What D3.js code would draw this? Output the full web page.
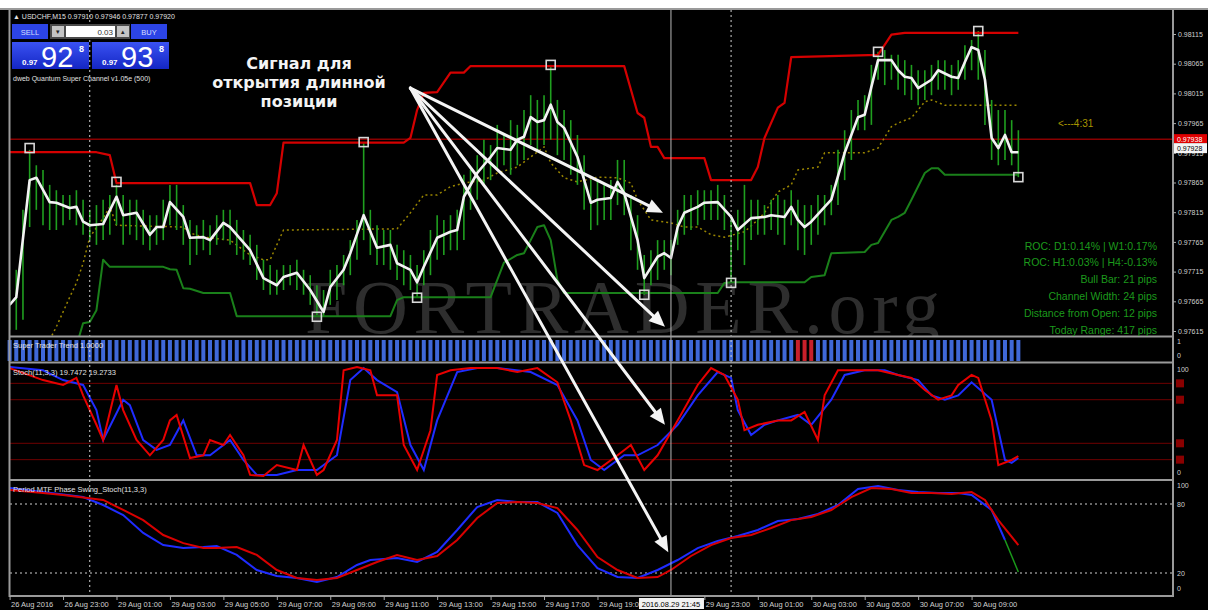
<!DOCTYPE html>
<html>
<head>
<meta charset="utf-8">
<script src="https://cdn.jsdelivr.net/npm/d3@7"></script>
<style>
  body { margin: 0; background: #fff; }
  svg text { font-family: "Liberation Sans", Arial, sans-serif; }
</style>
</head>
<body>
<svg id="chart" width="1208" height="610"></svg>
<script>
// ---- data ----
var barCount = 152;   // M15 bars, 26 Aug 21:00 .. 30 Aug 10:45

var barHigh = [
  0.97684,0.97718,0.97819,0.97920,0.97894,0.97886,0.97861,0.97852,0.97844,0.97844,
  0.97852,0.97836,0.97819,0.97827,0.97836,0.97844,0.97861,0.97844,0.97836,0.97836,
  0.97819,0.97810,0.97810,0.97836,0.97861,0.97861,0.97827,0.97802,0.97793,0.97802,
  0.97793,0.97810,0.97819,0.97819,0.97802,0.97785,0.97777,0.97760,0.97735,0.97726,
  0.97718,0.97726,0.97726,0.97735,0.97718,0.97709,0.97692,0.97684,0.97718,0.97726,
  0.97743,0.97768,0.97802,0.97933,0.97819,0.97793,0.97785,0.97785,0.97760,0.97751,
  0.97743,0.97726,0.97751,0.97785,0.97810,0.97802,0.97810,0.97819,0.97878,0.97886,
  0.97911,0.97937,0.97928,0.97962,0.97945,0.97970,0.97962,0.97987,0.98012,0.98004,
  0.98012,0.98063,0.98004,0.97987,0.97970,0.97945,0.97911,0.97869,0.97869,0.97861,
  0.97869,0.97903,0.97903,0.97844,0.97810,0.97743,0.97751,0.97768,0.97768,0.97768,
  0.97819,0.97844,0.97844,0.97852,0.97852,0.97852,0.97861,0.97844,0.97810,0.97819,
  0.97861,0.97836,0.97836,0.97827,0.97836,0.97844,0.97836,0.97852,0.97836,0.97827,
  0.97827,0.97844,0.97844,0.97861,0.97920,0.97953,0.97987,0.98004,0.98012,0.98063,
  0.98085,0.98088,0.98080,0.98080,0.98071,0.98063,0.98054,0.98054,0.98063,0.98071,
  0.98071,0.98063,0.98071,0.98096,0.98105,0.98120,0.98088,0.98004,0.97987,0.97987,
  0.97970,0.97953
];
var barLow = [
  0.97617,0.97617,0.97634,0.97790,0.97819,0.97793,0.97785,0.97785,0.97793,0.97802,
  0.97793,0.97777,0.97768,0.97760,0.97768,0.97777,0.97793,0.97760,0.97777,0.97768,
  0.97760,0.97751,0.97760,0.97768,0.97793,0.97785,0.97760,0.97726,0.97743,0.97751,
  0.97743,0.97760,0.97768,0.97760,0.97743,0.97735,0.97726,0.97701,0.97684,0.97676,
  0.97676,0.97684,0.97692,0.97684,0.97676,0.97659,0.97642,0.97639,0.97659,0.97667,
  0.97692,0.97709,0.97735,0.97768,0.97743,0.97726,0.97726,0.97718,0.97701,0.97692,
  0.97684,0.97671,0.97692,0.97709,0.97735,0.97743,0.97751,0.97751,0.97768,0.97819,
  0.97836,0.97861,0.97869,0.97886,0.97894,0.97878,0.97894,0.97903,0.97928,0.97920,
  0.97928,0.97937,0.97911,0.97903,0.97878,0.97861,0.97819,0.97785,0.97793,0.97802,
  0.97802,0.97827,0.97810,0.97751,0.97718,0.97676,0.97692,0.97701,0.97718,0.97709,
  0.97760,0.97777,0.97785,0.97793,0.97802,0.97802,0.97802,0.97785,0.97696,0.97751,
  0.97726,0.97768,0.97777,0.97777,0.97785,0.97777,0.97760,0.97793,0.97751,0.97743,
  0.97760,0.97777,0.97793,0.97810,0.97827,0.97869,0.97903,0.97953,0.97953,0.97962,
  0.98038,0.98029,0.98038,0.98021,0.98012,0.98004,0.97995,0.98004,0.98012,0.98021,
  0.98021,0.98012,0.98021,0.98038,0.98054,0.98038,0.97962,0.97903,0.97894,0.97903,
  0.97894,0.97874
];

// smoothed close (white line): [bar, price]
var closeLine = [
  [0,0.97659],[1,0.97672],[3,0.97869],[4,0.97873],[6,0.97832],[7,0.97831],[9,0.97822],[10,0.97824],
  [11,0.97799],[12,0.97793],[14,0.97795],[16,0.97841],[17,0.97810],[19,0.97814],[21,0.97777],[22,0.97790],
  [23,0.97790],[24,0.97832],[26,0.97807],[27,0.97772],[29,0.97773],[30,0.97768],[32,0.97797],[33,0.97790],
  [36,0.97751],[38,0.97704],[40,0.97692],[41,0.97706],[43,0.97713],[45,0.97684],[47,0.97647],[48,0.97689],
  [50,0.97718],[51,0.97746],[53,0.97810],[55,0.97755],[57,0.97760],[58,0.97729],[60,0.97718],[61,0.97697],
  [62,0.97723],[64,0.97772],[66,0.97782],[67,0.97785],[68,0.97841],[70,0.97881],[72,0.97908],[73,0.97923],
  [75,0.97920],[76,0.97937],[77,0.97942],[78,0.97975],[79,0.97967],[80,0.97970],[81,0.97996],[82,0.97967],
  [83,0.97957],[85,0.97908],[87,0.97831],[88,0.97836],[90,0.97839],[91,0.97866],[92,0.97847],[94,0.97768],
  [95,0.97704],[97,0.97740],[98,0.97746],[99,0.97738],[100,0.97790],[101,0.97814],[103,0.97824],[104,0.97831],
  [106,0.97832],[108,0.97807],[109,0.97785],[111,0.97805],[113,0.97807],[114,0.97810],[116,0.97807],[117,0.97824],
  [118,0.97802],[119,0.97790],[120,0.97799],[122,0.97824],[123,0.97836],[125,0.97915],[127,0.97975],[128,0.97979],
  [129,0.98026],[130,0.98071],[132,0.98071],[133,0.98054],[134,0.98043],[135,0.98041],[136,0.98024],[138,0.98038],
  [139,0.98054],[141,0.98043],[142,0.98041],[143,0.98068],[144,0.98093],[145,0.98088],[146,0.98038],[147,0.97940],
  [148,0.97923],[149,0.97945],[150,0.97916],[151,0.97916]
];

// Quantum Super Channel
var upperChannel = [
  [0,0.97916],[13,0.97916],[15,0.97911],[16,0.97864],[36,0.97864],[37,0.97827],[39,0.97827],[40,0.97847],
  [41,0.97932],[59,0.97932],[60,0.97940],[61,0.97987],[62,0.98016],[64,0.98017],[66,0.98050],[68,0.98050],
  [69,0.98061],[92,0.98061],[94,0.97982],[95,0.97974],[96,0.97925],[97,0.97925],[98,0.97906],[104,0.97906],
  [105,0.97869],[111,0.97869],[112,0.97891],[113,0.97940],[115,0.97991],[116,0.97999],[117,0.98076],[130,0.98080],
  [132,0.98114],[134,0.98117],[151,0.98117]
];
var lowerChannel = [
  [10,0.97590],[11,0.97628],[12,0.97630],[13,0.97650],[14,0.97735],[15,0.97723],[23,0.97723],[24,0.97719],
  [25,0.97718],[26,0.97687],[27,0.97686],[29,0.97679],[33,0.97679],[34,0.97640],[57,0.97640],[58,0.97667],
  [59,0.97672],[72,0.97672],[74,0.97730],[76,0.97743],[77,0.97746],[78,0.97768],[79,0.97790],[80,0.97793],
  [81,0.97768],[82,0.97701],[83,0.97679],[106,0.97679],[107,0.97696],[108,0.97697],[119,0.97697],[120,0.97706],
  [122,0.97709],[123,0.97746],[128,0.97748],[129,0.97760],[130,0.97763],[132,0.97802],[133,0.97807],[134,0.97814],
  [135,0.97836],[137,0.97881],[138,0.97889],[139,0.97889],[140,0.97878],[151,0.97878]
];
var midChannel = [
  [6,0.97600],[7,0.97622],[9,0.97672],[10,0.97696],[11,0.97729],[12,0.97773],[14,0.97805],[15,0.97824],
  [16,0.97793],[26,0.97790],[27,0.97780],[29,0.97773],[33,0.97768],[36,0.97743],[38,0.97735],[39,0.97735],
  [41,0.97785],[58,0.97787],[60,0.97814],[62,0.97844],[64,0.97844],[66,0.97858],[68,0.97864],[71,0.97869],
  [73,0.97881],[76,0.97891],[78,0.97908],[80,0.97925],[81,0.97898],[83,0.97873],[85,0.97866],[88,0.97874],
  [91,0.97873],[93,0.97864],[94,0.97836],[96,0.97802],[99,0.97797],[101,0.97790],[103,0.97790],[105,0.97777],
  [107,0.97773],[110,0.97782],[112,0.97802],[113,0.97814],[115,0.97849],[117,0.97861],[118,0.97886],[121,0.97891],
  [122,0.97915],[128,0.97915],[130,0.97923],[132,0.97959],[133,0.97965],[135,0.97974],[137,0.98001],[138,0.98004],
  [140,0.97995],[151,0.97995]
];
var channelSignals = [
  [3,0.97923],[16,0.97866],[46,0.97639],[53,0.97933],[61,0.97671],[81,0.98063],
  [95,0.97676],[108,0.97696],[130,0.98085],[145,0.98120],[151,0.97874]
];

var priceTicks = [0.97615,0.97665,0.97715,0.97765,0.97815,0.97865,0.97915,0.97965,0.98015,0.98065,0.98115];
var bidPrice = 0.97928, askPrice = 0.97938;

// Super Trader Trend: bars painted red (all the others are blue)
var trendDownBars = [118, 119, 120];

// Stoch(11,3,3): [bar, value]
var stochMain = [
  [0,99],[5,88],[8,83.5],[10,90],[11,74],[13,47],[14,33],[16,83.5],[17,60.5],[19,33],[21,19],[23,33],
  [24,51],[25,56],[27,16.5],[29,19],[30,33],[32,28.4],[33,37.6],[35,19],[36,1],[38,0],[40,10],[43,5.5],
  [44,28.4],[46,1],[47,5.5],[49,33],[50,97],[52,100],[54,97],[55,74],[58,74],[59,28.4],[61,5.5],[63,42],
  [64,92.7],[66,97],[69,99],[73,99],[76,95.4],[79,99],[82,86],[84,51],[86,10],[88,5.5],[91,19],[93,28.4],
  [95,5.5],[97,19],[100,51],[103,83.5],[105,99],[107,92.7],[109,70],[110,42],[112,47],[115,51],[117,51],
  [119,58.7],[121,33],[122,74],[124,97],[127,97],[130,97],[133,92.7],[135,90],[137,79],[139,70],[141,74],
  [142,83.5],[144,92.7],[145,90],[147,51],[148,10],[150,14.7],[151,18.3]
];
var stochSignal = [
  [0,100],[5,97],[8,88],[11,83.5],[13,60.5],[14,33],[17,70],[18,65],[20,33],[22,24],[24,28.4],[26,51],
  [28,19],[30,19],[33,33],[35,14.7],[37,1],[40,1],[43,5.5],[46,5.5],[49,19],[51,88],[53,99],[55,88],
  [58,77],[60,28.4],[62,5.5],[64,51],[67,95.4],[70,99],[73,99],[78,95.4],[82,83.5],[85,51],[87,14.7],
  [89,5.5],[92,19],[94,19],[97,28.4],[100,47],[103,74],[106,95.4],[108,90],[109,60.5],[111,37.6],[113,47],
  [115,51],[118,56],[120,47],[123,70],[125,92.7],[128,97],[131,97],[133,92.7],[136,88],[138,74],[140,70],
  [142,74],[144,86],[147,70],[149,14.7],[150,12],[151,16.5]
];
var stochLevels = [85, 70, 30, 15];

// Period MTF Phase Swing_Stoch(11,3,3): [bar, value]
var mtfMain = [
  [0,92.2],[5,89.6],[8,87.8],[14,83.5],[17,74.8],[20,66],[23,53],[26,46],[29,41.7],[31,41.7],[34,42.6],
  [37,35.7],[40,22.6],[43,15.7],[46,13.9],[49,15.7],[52,22.6],[55,29.6],[58,35.7],[61,31.3],[64,34.8],
  [67,48.7],[70,67.8],[73,80.9],[76,81.7],[79,80.9],[82,76.5],[85,57.4],[88,33.9],[91,22.6],[94,15.7],
  [97,16.5],[99,22.6],[102,34.8],[105,44.3],[108,50.4],[111,53],[114,59.1],[117,66],[120,68.7],[123,74.8],
  [126,86],[129,93.9],[132,93],[135,89.6],[138,89.6],[141,88.7],[144,90.4],[146,83.5],[148,66],[151,44.3]
];
var mtfSignal = [
  [0,93.9],[5,90.4],[11,86],[14,79.1],[17,70.4],[20,54.8],[23,44.3],[26,41.7],[29,42.6],[31,43.5],[34,35.7],
  [37,22.6],[40,17.4],[43,15.7],[46,12.2],[49,16.5],[52,27],[54,31.3],[58,33],[61,29.6],[64,38.3],[67,57.4],
  [70,77.4],[73,83.5],[76,81.7],[79,81.7],[82,72.2],[85,44.3],[88,24.3],[91,16.5],[94,15.7],[97,22.6],
  [100,31.3],[103,41.7],[106,47.8],[109,52.2],[112,57.4],[115,65.2],[118,67],[121,71.3],[124,79.1],[127,93],
  [130,95.7],[133,92.2],[136,90.4],[139,89.6],[142,89.6],[144,87.8],[147,74.8],[149,48.7]
];
var mtfSignalTail = [[149,48.7],[151,20.9]];
var mtfLevels = [80, 20];

// 29 Aug 21:00 sits under the crosshair date box, so it is not listed
var timeTickBars = [0,8,16,24,32,40,48,56,64,72,80,88,104,112,120,128,136,144];
var timeLabels = ["26 Aug 2016","26 Aug 23:00","29 Aug 01:00","29 Aug 03:00","29 Aug 05:00","29 Aug 07:00",
  "29 Aug 09:00","29 Aug 11:00","29 Aug 13:00","29 Aug 15:00","29 Aug 17:00","29 Aug 19:00",
  "29 Aug 23:00","30 Aug 01:00","30 Aug 03:00","30 Aug 05:00","30 Aug 07:00","30 Aug 09:00"];
var daySeparators = [12, 108];
var crosshairBar = 99, crosshairLabel = "2016.08.29 21:45";

var infoLines = ["ROC: D1:0.14% | W1:0.17%", "ROC: H1:0.03% | H4:-0.13%", "Bull Bar: 21 pips",
  "Channel Width: 24 pips", "Distance from Open:  12 pips", "Today Range:  417 pips"];

// ---- layout ----
var svg = d3.select("#chart");
var W = 1208, H = 610;
var left = 10, right = 1173;

var x = d3.scaleLinear().domain([0, 174]).range([9.6, 1172]);
var yPrice = d3.scaleLinear().domain([0.97615, 0.98115]).range([331, 34]);
var yTrend = d3.scaleLinear().domain([0, 1]).range([361, 340]);
var yStoch = d3.scaleLinear().domain([0, 100]).range([476, 367]);
var yMtf = d3.scaleLinear().domain([0, 100]).range([596, 481]);

svg.append("rect").attr("x", 0).attr("y", 8).attr("width", W).attr("height", H - 8).attr("fill", "#000");

var defs = svg.append("defs");
function clip(id, y0, y1) {
  defs.append("clipPath").attr("id", id).append("rect")
    .attr("x", left).attr("y", y0).attr("width", right - left).attr("height", y1 - y0);
  return "url(#" + id + ")";
}
var mainClip = clip("cMain", 10, 336);
var stochClip = clip("cStoch", 364, 479);
var mtfClip = clip("cMtf", 482, 595);

var line = function(ys) {
  return d3.line().x(d => x(d[0])).y(d => ys(d[1]));
};

// ---- main panel ----
var main = svg.append("g").attr("clip-path", mainClip);

main.append("text")
  .attr("x", 305).attr("y", 333)
  .attr("font-size", 76)
  .attr("textLength", 635).attr("lengthAdjust", "spacing")
  .attr("fill", "#2e2e2e")
  .style("font-family", "'Liberation Serif', serif")
  .text("FORTRADER.org");

main.append("line")
  .attr("x1", left).attr("x2", right)
  .attr("y1", yPrice(askPrice)).attr("y2", yPrice(askPrice))
  .attr("stroke", "#8a0000").attr("stroke-width", 1.5);

main.append("path").datum(midChannel)
  .attr("d", line(yPrice)).attr("fill", "none")
  .attr("stroke", "#9a8600").attr("stroke-width", 1.5).attr("stroke-dasharray", "2,3");

main.selectAll(".bar").data(d3.range(barCount)).enter().append("line")
  .attr("x1", i => x(i)).attr("x2", i => x(i))
  .attr("y1", i => yPrice(barHigh[i])).attr("y2", i => yPrice(barLow[i]))
  .attr("stroke", "#1f9f1f").attr("stroke-width", 1.6);

main.append("path").datum(upperChannel)
  .attr("d", line(yPrice)).attr("fill", "none")
  .attr("stroke", "#d40000").attr("stroke-width", 2.2).attr("stroke-linejoin", "round");

main.append("path").datum(lowerChannel)
  .attr("d", line(yPrice)).attr("fill", "none")
  .attr("stroke", "#1a801a").attr("stroke-width", 2).attr("stroke-linejoin", "round");

main.append("path").datum(closeLine)
  .attr("d", line(yPrice)).attr("fill", "none")
  .attr("stroke", "#f2f2f2").attr("stroke-width", 2.6).attr("stroke-linejoin", "round");

main.selectAll(".sig").data(channelSignals).enter().append("rect")
  .attr("x", d => x(d[0]) - 4.5).attr("y", d => yPrice(d[1]) - 4.5)
  .attr("width", 9).attr("height", 9)
  .attr("fill", "none").attr("stroke", "#d8d8d8").attr("stroke-width", 1.6);

// ---- trend histogram ----
var trendG = svg.append("g");
trendG.selectAll("rect").data(d3.range(barCount)).enter().append("rect")
  .attr("x", i => x(i) - 2).attr("width", 4)
  .attr("y", yTrend(1)).attr("height", yTrend(0) - yTrend(1))
  .attr("fill", i => trendDownBars.indexOf(i) >= 0 ? "#c8202a" : "#3f68d8");

// ---- stochastic ----
var stoch = svg.append("g").attr("clip-path", stochClip);
stoch.selectAll(".lvl").data(stochLevels).enter().append("line")
  .attr("x1", left).attr("x2", right)
  .attr("y1", d => yStoch(d)).attr("y2", d => yStoch(d))
  .attr("stroke", "#6e0000").attr("stroke-width", 1);
stoch.append("path").datum(stochSignal).attr("d", line(yStoch))
  .attr("fill", "none").attr("stroke", "#1f2cff").attr("stroke-width", 2);
stoch.append("path").datum(stochMain).attr("d", line(yStoch))
  .attr("fill", "none").attr("stroke", "#e80000").attr("stroke-width", 2);

svg.selectAll(".lvlbox").data(stochLevels).enter().append("rect")
  .attr("x", 1176).attr("y", d => yStoch(d) - 4).attr("width", 8).attr("height", 8)
  .attr("fill", "#8a0000");

// ---- MTF swing stoch ----
var mtf = svg.append("g").attr("clip-path", mtfClip);
mtf.selectAll(".lvl").data(mtfLevels).enter().append("line")
  .attr("x1", left).attr("x2", right)
  .attr("y1", d => yMtf(d)).attr("y2", d => yMtf(d))
  .attr("stroke", "#cfcfcf").attr("stroke-width", 1).attr("stroke-dasharray", "2,3");
mtf.append("path").datum(mtfSignal).attr("d", line(yMtf))
  .attr("fill", "none").attr("stroke", "#1f2cff").attr("stroke-width", 2);
mtf.append("path").datum(mtfSignalTail).attr("d", line(yMtf))
  .attr("fill", "none").attr("stroke", "#1a9a1a").attr("stroke-width", 1.5);
mtf.append("path").datum(mtfMain).attr("d", line(yMtf))
  .attr("fill", "none").attr("stroke", "#d80000").attr("stroke-width", 2);

// ---- separators / crosshair ----
svg.selectAll(".sep").data(daySeparators).enter().append("line")
  .attr("x1", d => x(d)).attr("x2", d => x(d)).attr("y1", 10).attr("y2", 595)
  .attr("stroke", "#d0d0d0").attr("stroke-width", 1).attr("stroke-dasharray", "2,3");
svg.append("line")
  .attr("x1", x(crosshairBar)).attr("x2", x(crosshairBar)).attr("y1", 10).attr("y2", 595)
  .attr("stroke", "#b8b8b8").attr("stroke-width", 1);

// frame
var frame = svg.append("g").attr("stroke", "#9a9a9a").attr("stroke-width", 2);
frame.append("line").attr("x1", 0).attr("x2", W).attr("y1", 9).attr("y2", 9);
frame.append("line").attr("x1", 9.5).attr("x2", 9.5).attr("y1", 9).attr("y2", 597);
frame.append("line").attr("x1", right).attr("x2", right).attr("y1", 9).attr("y2", 597);
[336.5, 362.5, 480, 596].forEach(function(yy) {
  frame.append("line").attr("x1", 9.5).attr("x2", right).attr("y1", yy).attr("y2", yy);
});

// ---- price axis ----
var priceAxis = svg.append("g")
  .attr("transform", "translate(" + right + ",0)")
  .call(d3.axisRight(yPrice).tickValues(priceTicks).tickFormat(d3.format(".5f")).tickSize(3).tickPadding(2));
priceAxis.select(".domain").remove();
priceAxis.selectAll("line").attr("stroke", "#aaa");
priceAxis.selectAll("text").attr("fill", "#d0d0d0").attr("font-size", 7)
  .style("font-family", "'Liberation Sans', Arial, sans-serif");

svg.append("rect").attr("x", 1174).attr("y", yPrice(askPrice) - 5).attr("width", 33).attr("height", 9).attr("fill", "#e00000");
svg.append("text").attr("x", 1177).attr("y", yPrice(askPrice) + 2.5).attr("font-size", 7).attr("fill", "#fff")
  .text(askPrice.toFixed(5));
svg.append("rect").attr("x", 1174).attr("y", yPrice(askPrice) + 4).attr("width", 33).attr("height", 10).attr("fill", "#f4f4f4");
svg.append("text").attr("x", 1177).attr("y", yPrice(askPrice) + 11.5).attr("font-size", 7).attr("fill", "#000")
  .text(bidPrice.toFixed(5));

// panel scale labels
var panelLabels = [
  [yTrend(1) + 4, "1"], [yTrend(0) - 3, "0"],
  [yStoch(100) + 5, "100"], [yStoch(0) - 1, "0"],
  [yMtf(100) + 7, "100"], [yMtf(80) + 2.5, "80"], [yMtf(20) + 2.5, "20"], [yMtf(0) - 5, "0"]
];
svg.selectAll(".plab").data(panelLabels).enter().append("text")
  .attr("x", 1177).attr("y", d => d[0]).attr("font-size", 7).attr("fill", "#d0d0d0").text(d => d[1]);

// ---- time axis ----
var timeAxis = svg.append("g")
  .attr("transform", "translate(0,596)")
  .call(d3.axisBottom(x).tickValues(timeTickBars).tickFormat((d, i) => timeLabels[i]).tickSize(4).tickPadding(2));
timeAxis.select(".domain").remove();
timeAxis.selectAll("line").attr("stroke", "#aaa");
timeAxis.selectAll("text").attr("fill", "#d0d0d0").attr("font-size", 7.5).attr("text-anchor", "start")
  .attr("dx", 1).style("font-family", "'Liberation Sans', Arial, sans-serif");

svg.append("rect").attr("x", x(crosshairBar) - 32).attr("y", 598).attr("width", 65).attr("height", 11).attr("fill", "#f2f2f2");
svg.append("text").attr("x", x(crosshairBar)).attr("y", 606.5).attr("text-anchor", "middle")
  .attr("font-size", 7.5).attr("fill", "#000").text(crosshairLabel);

// ---- indicator captions ----
var capStyle = function(sel) { return sel.attr("font-size", 7.5).attr("fill", "#e0e0e0"); };
capStyle(svg.append("text").attr("x", 13).attr("y", 348)).text("Super Trader Trend 1.0000");
capStyle(svg.append("text").attr("x", 13).attr("y", 375)).text("Stoch(11,3,3) 19.7472 19.2733");
capStyle(svg.append("text").attr("x", 13).attr("y", 492)).text("Period MTF Phase Swing_Stoch(11,3,3)");

// info block
svg.selectAll(".info").data(infoLines).enter().append("text")
  .attr("x", 1157).attr("y", (d, i) => 249.5 + i * 16.8)
  .attr("text-anchor", "end").attr("font-size", 10.5).attr("fill", "#1c9a1c").text(d => d);
svg.append("text").attr("x", 1058).attr("y", 127).attr("font-size", 10).attr("fill", "#a89400").text("<---4:31");

// ---- trade panel ----
var grad = defs.append("linearGradient").attr("id", "gBlue").attr("x1", 0).attr("y1", 0).attr("x2", 0).attr("y2", 1);
grad.append("stop").attr("offset", "0%").attr("stop-color", "#3a52f2");
grad.append("stop").attr("offset", "100%").attr("stop-color", "#1426c4");

capStyle(svg.append("text").attr("x", 13).attr("y", 19)).attr("font-size", 7)
  .text("\u25B2 USDCHF,M15  0.97910 0.97946 0.97877 0.97920");
svg.append("rect").attr("x", 12).attr("y", 24).attr("width", 36).attr("height", 15).attr("fill", "#2c44e6");
svg.append("text").attr("x", 30).attr("y", 34.5).attr("text-anchor", "middle").attr("font-size", 7.5)
  .attr("fill", "#d6dcff").text("SELL");
svg.append("rect").attr("x", 50).attr("y", 24).attr("width", 80).attr("height", 15).attr("fill", "#4a4a4a");
svg.append("rect").attr("x", 52).attr("y", 26).attr("width", 12).attr("height", 11).attr("fill", "#c4c4c4");
svg.append("rect").attr("x", 66).attr("y", 26).attr("width", 49).attr("height", 11).attr("fill", "#fff");
svg.append("rect").attr("x", 117).attr("y", 26).attr("width", 12).attr("height", 11).attr("fill", "#c4c4c4");
svg.append("text").attr("x", 58).attr("y", 34).attr("text-anchor", "middle").attr("font-size", 7).attr("fill", "#222").text("\u25BE");
svg.append("text").attr("x", 123).attr("y", 34).attr("text-anchor", "middle").attr("font-size", 7).attr("fill", "#222").text("\u25B4");
svg.append("text").attr("x", 113).attr("y", 34.5).attr("text-anchor", "end").attr("font-size", 8).attr("fill", "#333").text("0.03");
svg.append("rect").attr("x", 131).attr("y", 24).attr("width", 36).attr("height", 15).attr("fill", "#2c44e6");
svg.append("text").attr("x", 149).attr("y", 34.5).attr("text-anchor", "middle").attr("font-size", 7.5)
  .attr("fill", "#d6dcff").text("BUY");

[[12, bidPrice], [92, askPrice]].forEach(function(p) {
  var s = p[1].toFixed(5);
  svg.append("rect").attr("x", p[0]).attr("y", 42).attr("width", 77).attr("height", 27).attr("fill", "url(#gBlue)");
  svg.append("text").attr("x", p[0] + 10).attr("y", 65).attr("font-size", 8).attr("font-weight", "bold")
    .attr("fill", "#fff").text(s.slice(0, 4));
  svg.append("text").attr("x", p[0] + 29).attr("y", 67).attr("font-size", 29).attr("fill", "#fff").text(s.slice(4, 6));
  svg.append("text").attr("x", p[0] + 67).attr("y", 52).attr("font-size", 9).attr("font-weight", "bold")
    .attr("fill", "#fff").text(s.slice(6));
});
capStyle(svg.append("text").attr("x", 13).attr("y", 81)).attr("font-size", 7)
  .text("dweb Quantum Super Channel v1.05e (500)");

// ---- annotation arrows ----
var arrowFrom = [x(60), yPrice(0.98024)];
var arrowTips = [
  [x(97.8), yPrice(0.97814)],
  [x(98.1), yPrice(0.97622)],
  [x(98.1), yStoch(47)],
  [x(98.6), yMtf(38)]
];
var ann = svg.append("g");
arrowTips.forEach(function(t) {
  var dx = t[0] - arrowFrom[0], dy = t[1] - arrowFrom[1];
  var len = Math.sqrt(dx * dx + dy * dy), ux = dx / len, uy = dy / len;
  var bx = t[0] - ux * 16, by = t[1] - uy * 16;
  ann.append("line")
    .attr("x1", arrowFrom[0]).attr("y1", arrowFrom[1]).attr("x2", bx).attr("y2", by)
    .attr("stroke", "#f4f4f4").attr("stroke-width", 3).attr("stroke-linecap", "round");
  ann.append("polygon")
    .attr("points", [[t[0], t[1]], [bx - uy * 7, by + ux * 7], [bx + uy * 7, by - ux * 7]].map(p => p.join(",")).join(" "))
    .attr("fill", "#f4f4f4");
});
["Сигнал для", "открытия длинной", "позиции"].forEach(function(s, i) {
  ann.append("text").attr("x", 299).attr("y", 69 + i * 19).attr("text-anchor", "middle")
    .attr("font-size", 16).attr("font-weight", "bold").attr("fill", "#f4f4f4")
    .style("font-family", "'DejaVu Sans', sans-serif").text(s);
});
</script>
</body>
</html>
